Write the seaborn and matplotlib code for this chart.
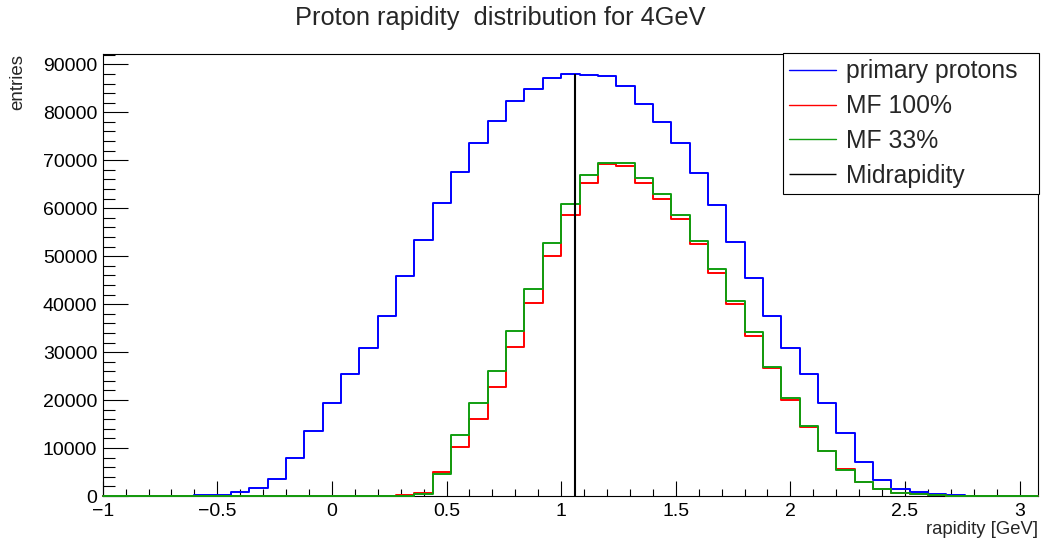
import numpy as np
import pandas as pd
import matplotlib
matplotlib.use("Agg")
import matplotlib.pyplot as plt
from matplotlib.ticker import MultipleLocator, FuncFormatter
import seaborn as sns

# ---- data (51 bins of width 0.08 from -1 to 3.08) ----
bin_lo = -1.0
bin_width = 0.08
n_bins = 51

primary_protons = [0, 0, 60, 80, 100, 150, 270, 770, 1600, 3600,
                   7900, 13600, 19450, 25500, 30850, 37500, 45800, 53400, 61000, 67600,
                   73500, 78250, 82350, 84850, 87200, 87900, 87830, 87490, 85530, 81780,
                   77900, 73520, 67330, 60730, 53020, 45400, 37520, 30790, 25370, 19320,
                   13200, 7150, 3340, 1530, 770, 350, 150, 100, 60, 40, 20]
mf_100 = [0, 0, 0, 0, 0, 0, 0, 0, 0, 0,
          0, 0, 0, 0, 0, 0, 150, 650, 4940, 10280,
          16120, 22660, 31060, 40230, 50100, 58500, 65320, 69150, 68860, 65320,
          62000, 57680, 52470, 46560, 39960, 33420, 26620, 20010, 14450, 9380,
          5560, 2920, 1530, 700, 380, 150, 50, 0, 0, 0, 0]
mf_33 = [0, 0, 0, 0, 0, 0, 0, 0, 0, 0,
         0, 0, 0, 0, 0, 0, 80, 350, 4520, 12720,
         19320, 26060, 34400, 43090, 52800, 60930, 66850, 69500, 69350, 66360,
         62960, 58640, 53220, 47260, 40720, 34120, 26960, 20370, 14660, 9380,
         5420, 2920, 1450, 680, 380, 150, 50, 0, 0, 0, 0]
midrapidity = 1.06

series_labels = ["primary protons", "MF 100%", "MF 33%"]
series_colors = ["#0000ff", "#ff0000", "#109e10"]

edges = bin_lo + bin_width * np.arange(n_bins + 1)
centers = 0.5 * (edges[:-1] + edges[1:])

sns.set_style("ticks")
plt.rcParams["font.family"] = ["Liberation Sans", "DejaVu Sans"]
plt.rcParams["axes.unicode_minus"] = True

fig = plt.figure(figsize=(10.43, 5.40), dpi=100)
ax = fig.add_axes([0.09847, 0.08148, 0.8967, 0.8185])

for vals, lab, col in zip([primary_protons, mf_100, mf_33], series_labels, series_colors):
    df = pd.DataFrame({"rapidity": centers, "entries": vals})
    sns.histplot(data=df, x="rapidity", weights="entries",
                 binwidth=bin_width, binrange=(edges[0], edges[-1]),
                 element="step", fill=False, color=col, linewidth=1.4,
                 label=lab, ax=ax)

for ln in ax.lines:
    ln.set_clip_on(False)
    ln.set_zorder(3)

ax.vlines(midrapidity, 0, max(primary_protons), color="black", linewidth=1.5,
          label="Midrapidity", zorder=5)

ax.set_xlim(-1.0, 3.08)
ax.set_ylim(0, 92150)

ax.xaxis.set_major_locator(MultipleLocator(0.5))
ax.xaxis.set_minor_locator(MultipleLocator(0.1))
ax.yaxis.set_major_locator(MultipleLocator(10000))
ax.yaxis.set_minor_locator(MultipleLocator(2000))
ax.xaxis.set_major_formatter(FuncFormatter(lambda v, p: ("%g" % v).replace("-", "\u2212")))
ax.yaxis.set_major_formatter(FuncFormatter(lambda v, p: "%d" % round(v)))

ax.tick_params(axis="both", which="both", direction="in", color="black",
               top=False, right=False, labelsize=14, labelcolor="black", width=0.8)
ax.tick_params(axis="y", which="major", length=18, pad=4)
ax.tick_params(axis="y", which="minor", length=8.6)
ax.tick_params(axis="x", which="major", length=10.6, pad=5)
ax.tick_params(axis="x", which="minor", length=5)

for s in ax.spines.values():
    s.set_visible(True)
    s.set_color("black")
    s.set_linewidth(0.8)

ax.set_xlabel("rapidity [GeV]", fontsize=13.3, loc="right")
ax.xaxis.set_label_coords(1.0, -0.056)
ax.set_ylabel("entries", fontsize=13.5, loc="top")
ax.yaxis.set_label_coords(-0.082, 1.0)

fig.text(0.48, 0.967, "Proton rapidity  distribution for 4GeV", ha="center",
         va="center", fontsize=18.3)

leg = ax.legend(loc="upper left", bbox_to_anchor=(0.727, 0.686, 0.274, 0.316),
                mode="expand", fontsize=17.8, frameon=True, fancybox=False,
                shadow=False, framealpha=1, edgecolor="black", borderpad=0.25,
                labelspacing=0.44, handlelength=1.9, handletextpad=0.42,
                borderaxespad=0.0)
leg.get_frame().set_linewidth(0.8)
leg.set_zorder(10)
for h in leg.get_lines():
    h.set_linewidth(1.0)

fig.savefig("out.png", dpi=100)
